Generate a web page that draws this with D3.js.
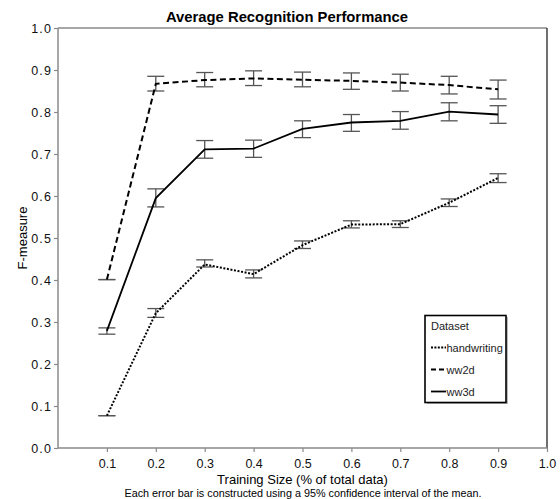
<!DOCTYPE html>
<html><head><meta charset="utf-8">
<script src="https://cdn.jsdelivr.net/npm/d3@7"></script>
<style>body{margin:0;background:#fff}svg{display:block;font-family:"Liberation Sans",Arial,sans-serif}</style>
</head><body><svg id="c" width="560" height="499"></svg>
<script>
const sizes = [0.1,0.2,0.3,0.4,0.5,0.6,0.7,0.8,0.9];
const handwritingMean = [0.077,0.321,0.437,0.414,0.483,0.532,0.533,0.584,0.643];
const handwritingLow  = [0.077,0.311,0.431,0.405,0.475,0.524,0.525,0.575,0.632];
const handwritingHigh = [0.077,0.332,0.448,0.424,0.493,0.541,0.541,0.593,0.653];
const ww2dMean = [0.401,0.867,0.876,0.880,0.877,0.874,0.870,0.864,0.854];
const ww2dLow  = [0.401,0.850,0.860,0.863,0.860,0.854,0.850,0.843,0.831];
const ww2dHigh = [0.401,0.885,0.894,0.898,0.895,0.893,0.890,0.885,0.876];
const ww3dMean = [0.279,0.595,0.711,0.713,0.760,0.775,0.779,0.801,0.794];
const ww3dLow  = [0.271,0.574,0.690,0.692,0.739,0.754,0.759,0.779,0.773];
const ww3dHigh = [0.286,0.617,0.732,0.733,0.779,0.794,0.801,0.822,0.815];
const xTicks = [0.1,0.2,0.3,0.4,0.5,0.6,0.7,0.8,0.9,1.0];
const yTicks = [0,0.1,0.2,0.3,0.4,0.5,0.6,0.7,0.8,0.9,1.0];
const seriesNames = ["handwriting","ww2d","ww3d"];
const dashes = {handwriting:"2,1.6", ww2d:"6,3.5", ww3d:null};

const series = [
  {name:"handwriting", mean:handwritingMean, lo:handwritingLow, hi:handwritingHigh},
  {name:"ww2d", mean:ww2dMean, lo:ww2dLow, hi:ww2dHigh},
  {name:"ww3d", mean:ww3dMean, lo:ww3dLow, hi:ww3dHigh}
];

const L=58,R=547,T=28,B=448;
const svg=d3.select("#c");
const x=d3.scaleLinear().domain([0,1]).range([L,R]);
const y=d3.scaleLinear().domain([0,1]).range([B,T]);
const axisCol="#8a8a8a";

// frame top and right
svg.append("line").attr("x1",L).attr("x2",R).attr("y1",T).attr("y2",T).attr("stroke",axisCol).attr("stroke-width",1.5);
svg.append("line").attr("x1",R).attr("x2",R).attr("y1",T).attr("y2",B).attr("stroke","#222").attr("stroke-width",1.3);

const xa=svg.append("g").attr("transform",`translate(0,${B})`)
  .call(d3.axisBottom(x).tickValues(xTicks).tickFormat(d3.format(".1f")).tickSize(4).tickPadding(7));
const ya=svg.append("g").attr("transform",`translate(${L},0)`)
  .call(d3.axisLeft(y).tickValues(yTicks).tickFormat(d3.format(".1f")).tickSize(4).tickPadding(2));
[xa,ya].forEach(a=>{
  a.select(".domain").attr("stroke",axisCol).attr("stroke-width",1.5);
  a.selectAll(".tick line").attr("stroke",axisCol).attr("stroke-width",1.2);
  a.selectAll("text").attr("fill","#111").attr("font-size",12.5).attr("font-family","Liberation Sans, Arial, sans-serif");
});
ya.selectAll("text").attr("letter-spacing",1.1);
xa.select(".domain").attr("d",`M${L},0H${R}`);
ya.select(".domain").attr("d",`M0,${B}V${T}`);

// error bars
const cap=8.5;
series.forEach(s=>{
  const g=svg.append("g").attr("stroke","#555").attr("stroke-width",1.3).attr("fill","none");
  sizes.forEach((v,i)=>{
    const cx=x(v);
    g.append("line").attr("x1",cx).attr("x2",cx).attr("y1",y(s.lo[i])).attr("y2",y(s.hi[i]));
    g.append("line").attr("x1",cx-cap).attr("x2",cx+cap).attr("y1",y(s.lo[i])).attr("y2",y(s.lo[i]));
    g.append("line").attr("x1",cx-cap).attr("x2",cx+cap).attr("y1",y(s.hi[i])).attr("y2",y(s.hi[i]));
  });
});

// lines
const line=d3.line().x(d=>x(d[0])).y(d=>y(d[1]));
series.forEach(s=>{
  svg.append("path").datum(sizes.map((v,i)=>[v,s.mean[i]]))
    .attr("d",line).attr("fill","none").attr("stroke","#000")
    .attr("stroke-width",s.name==="ww3d"?1.8:2)
    .attr("stroke-dasharray",dashes[s.name]);
});

// title & labels
svg.append("text").attr("x",287).attr("y",22).attr("text-anchor","middle")
  .attr("font-weight","bold").attr("font-size",14.8).text("Average Recognition Performance");
svg.append("text").attr("x",(L+R)/2).attr("y",484).attr("text-anchor","middle")
  .attr("font-size",13).text("Training Size (% of total data)");
svg.append("text").attr("x",303).attr("y",497).attr("text-anchor","middle")
  .attr("font-size",10.8).text("Each error bar is constructed using a 95% confidence interval of the mean.");
svg.append("text").attr("transform","translate(27,238) rotate(-90)").attr("text-anchor","middle")
  .attr("font-size",13).text("F-measure");

// legend
const lg=svg.append("g");
lg.append("rect").attr("x",427).attr("y",317).attr("width",81).attr("height",87).attr("fill","#bbb");
lg.append("rect").attr("x",425).attr("y",315.5).attr("width",81).attr("height",87).attr("fill","#fff").attr("stroke","#000").attr("stroke-width",1.6);
lg.append("text").attr("x",431).attr("y",330).attr("font-size",11).attr("fill","#222").text("Dataset");
seriesNames.forEach((n,i)=>{
  const yy=347.5+i*22;
  lg.append("line").attr("x1",431).attr("x2",446).attr("y1",yy).attr("y2",yy).attr("stroke","#000")
    .attr("stroke-width",1.8).attr("stroke-dasharray",n==="ww2d"?"5,3":(n==="handwriting"?"2,1.4":null));
  lg.append("text").attr("x",446.5).attr("y",yy+4).attr("font-size",11).attr("fill","#222").text(n);
});
</script></body></html>
